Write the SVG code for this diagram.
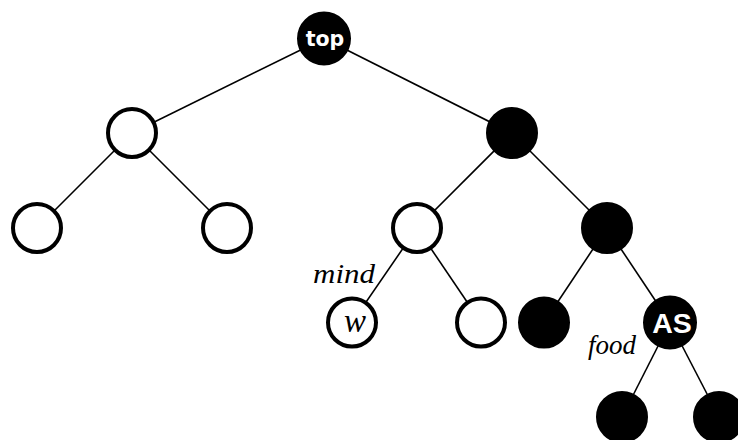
<svg xmlns="http://www.w3.org/2000/svg" width="738" height="440" viewBox="0 0 738 440">
  <style>
    .edge { stroke: #000; stroke-width: 1.6; fill: none; }
    .open { fill: #fff; stroke: #000; stroke-width: 4; }
    .solid { fill: #000; stroke: #000; stroke-width: 2; }
    .tag { font-weight: bold; fill: #fff; text-anchor: middle; }
    .math { font-family: "Liberation Serif", "DejaVu Serif", serif; font-style: italic; fill: #000; }
  </style>
  <rect width="738" height="440" fill="#fff"/>
  <g id="edges">
    <line class="edge" x1="324" y1="38.5" x2="132" y2="133"/>
    <line class="edge" x1="324" y1="38.5" x2="512" y2="133"/>
    <line class="edge" x1="132" y1="133" x2="37" y2="228"/>
    <line class="edge" x1="132" y1="133" x2="227" y2="228"/>
    <line class="edge" x1="512" y1="133" x2="417" y2="228"/>
    <line class="edge" x1="512" y1="133" x2="607" y2="228"/>
    <line class="edge" x1="417" y1="228" x2="352" y2="322.5"/>
    <line class="edge" x1="417" y1="228" x2="481" y2="322.5"/>
    <line class="edge" x1="607" y1="228" x2="544" y2="322.5"/>
    <line class="edge" x1="607" y1="228" x2="670" y2="322.5"/>
    <line class="edge" x1="670" y1="322.5" x2="622" y2="417"/>
    <line class="edge" x1="670" y1="322.5" x2="719" y2="417"/>
  </g>
  <g id="n-top">
    <circle class="solid" cx="324" cy="38.5" r="26"/>
    <text class="tag" x="325" y="45.5" font-size="20.5" font-family="DejaVu Sans, sans-serif">top</text>
  </g>
  <g id="n-l"><circle class="open" cx="132" cy="133" r="24"/></g>
  <g id="n-r"><circle class="solid" cx="512" cy="133" r="25"/></g>
  <g id="n-ll"><circle class="open" cx="37" cy="228" r="24"/></g>
  <g id="n-lr"><circle class="open" cx="227" cy="228" r="24"/></g>
  <g id="n-rl"><circle class="open" cx="417" cy="228" r="24"/></g>
  <g id="n-rr"><circle class="solid" cx="607" cy="228" r="25"/></g>
  <g id="n-w">
    <circle class="open" cx="352" cy="322.5" r="24"/>
    <text class="math" x="355" y="332" font-size="33" text-anchor="middle">w</text>
  </g>
  <g id="n-rlr"><circle class="open" cx="481" cy="322.5" r="24"/></g>
  <g id="n-rrl"><circle class="solid" cx="544" cy="322.5" r="25"/></g>
  <g id="n-as">
    <circle class="solid" cx="670" cy="322.5" r="26"/>
    <text class="tag" x="672" y="333" font-size="28.5" font-family="Liberation Sans, Arial, sans-serif">AS</text>
  </g>
  <g id="n-asl"><circle class="solid" cx="622" cy="417" r="25"/></g>
  <g id="n-asr"><circle class="solid" cx="719" cy="417" r="25"/></g>
  <g id="labels">
    <text class="math" x="313" y="283" font-size="27" textLength="62" lengthAdjust="spacingAndGlyphs">mind</text>
    <text class="math" x="588" y="354" font-size="27" textLength="48" lengthAdjust="spacingAndGlyphs">food</text>
  </g>
</svg>
